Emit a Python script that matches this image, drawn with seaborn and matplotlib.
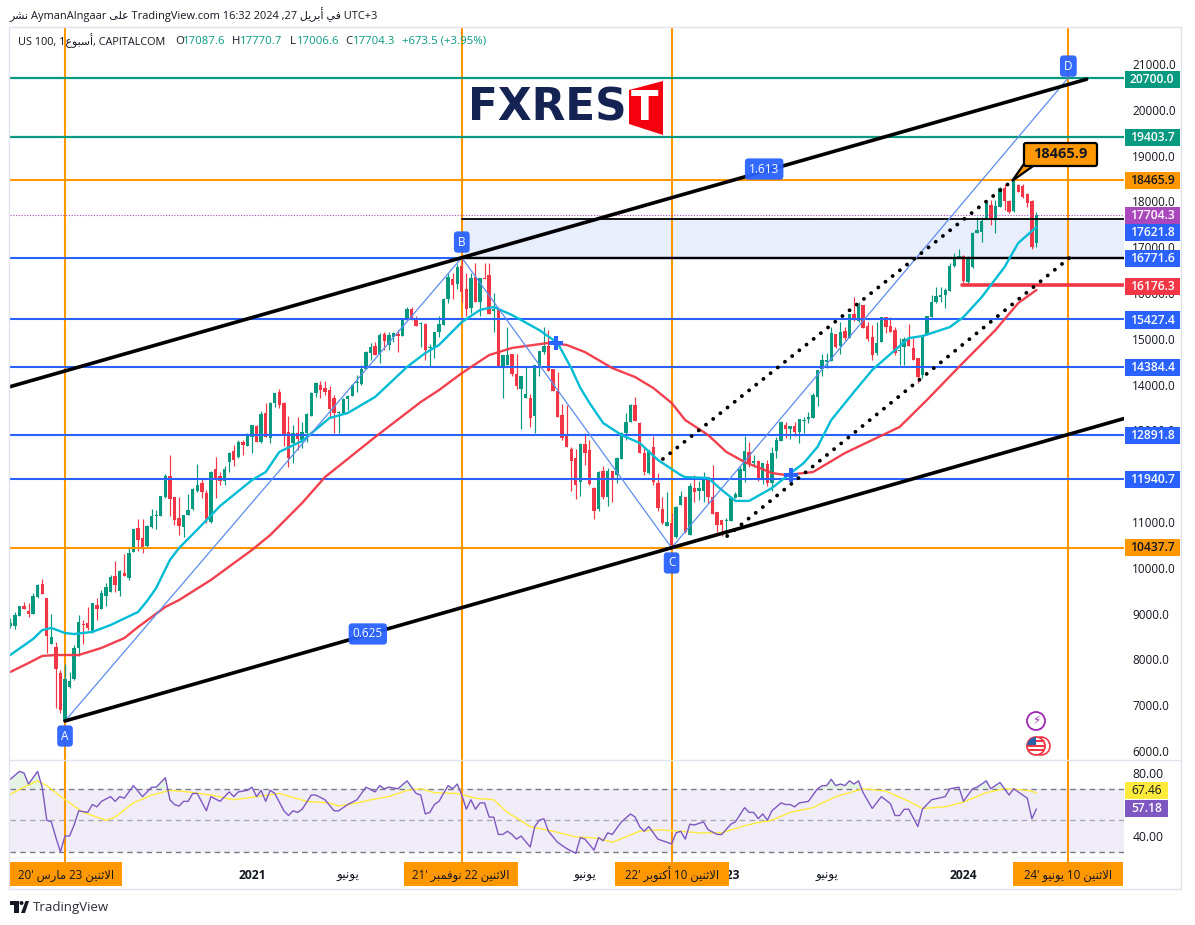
import numpy as np
import matplotlib
matplotlib.use('Agg')
import matplotlib.pyplot as plt
from matplotlib.patches import Rectangle, Polygon, Circle, FancyBboxPatch
import seaborn as sns

###############
##Weekly candles#
###############
opens = [8730,8730,8950,9165,9055,8990,9360,9645,9340,8340,
8270,7700,6655,7400,7570,8250,8770,8795,8600,9190,
9100,9385,9470,9820,9495,9885,9780,10345,10870,10650,
10475,10890,11130,11130,11545,12000,11545,11085,10890,11150,
11285,11675,11850,11630,11000,12155,12005,11895,12310,12550,
12420,12745,12660,12855,13095,12745,13380,12835,13600,13840,
13600,12965,12725,12945,12790,12945,13315,13815,14000,13925,
13880,13710,13380,13360,13690,13750,14035,14015,14340,14690,
14840,14670,15105,14865,15040,15105,15060,15410,15650,15455,
15320,15320,14800,14800,15150,15300,15870,16305,16195,16590,
16085,15670,16350,15805,16330,16390,15610,15630,14385,14430,
14670,14230,13905,13710,13710,13315,14385,14710,14840,14340,
13860,13340,12900,12595,12400,11875,12705,12570,11745,11285,
12115,11545,12115,12025,12375,12945,13185,13555,13160,12505,
12070,12640,11850,11285,10910,10980,10670,11370,11545,10715,
11745,11675,11675,11985,11545,11220,11045,11030,11020,11525,
11545,12115,12530,12290,12330,11940,12265,11850,12550,12770,
13120,13030,13095,12965,13205,13250,13270,13730,14340,14495,
14515,15105,14840,15170,15020,15540,15390,15735,15280,15040,
14690,14930,15475,15280,15190,14735,14820,14975,14800,14580,
14210,15085,15480,15805,15910,15955,16045,16590,16785,16810,
16240,16570,17310,17330,17615,17920,17615,17880,18290,18010,
17790,18360,18335,18160,18010,17087.6]

highs = [8900,9035,9165,9255,9230,9450,9645,9755,9340,8990,
8380,7770,7900,7725,8310,8970,8860,9145,9230,9340,
9515,9670,9840,10150,9950,10300,10430,10850,11065,11065,
10935,11285,11260,11570,12050,12460,11545,11545,11150,11610,
11745,12270,11960,11700,12115,12420,12090,12220,12530,12680,
12790,12790,12945,13120,13120,13425,13600,13620,13815,13905,
13620,13315,13120,13290,13185,13380,13840,14055,14080,14080,
13970,13775,13425,13710,13775,14015,14210,14430,14735,14910,
14930,15125,15150,15150,15150,15190,15430,15690,15690,15500,
15365,15345,14880,15150,15500,15890,16435,16435,16635,16785,
16435,16435,16655,16330,16655,16655,16000,15630,14645,15255,
14670,14670,14190,14385,13795,14430,14735,15255,15190,14340,
14275,13575,13555,12640,12595,12725,12945,12790,11765,12115,
12220,12180,12115,12420,12965,13380,13575,13730,13185,12615,
12570,12880,12070,11545,11655,11195,11350,11675,11545,11850,
12025,11895,12090,11985,12245,11220,11045,11085,11545,11655,
12220,12880,12745,12460,12355,12290,12355,12640,12855,13205,
13185,13095,13185,13250,13290,13400,13815,14320,14670,14690,
15255,15105,15365,15255,15540,15910,15805,15735,15365,15300,
15365,15475,15475,15475,15255,15020,15040,15320,15020,14580,
15085,15500,15955,16130,16130,16110,16655,16870,16960,16830,
16810,17330,17660,17660,17965,18030,18030,18315,18380,18030,
18465,18380,18380,18185,18030,17770.7]

lows = [8685,8665,8950,9100,8925,8990,9340,9430,8140,8340,
6940,6830,6655,7375,7550,8075,8340,8640,8575,8860,
9100,9165,9470,9470,9385,9820,9735,10345,10370,10325,
10455,10870,10845,11130,11520,11130,10935,10715,10670,11150,
11260,11655,11525,10980,10980,11525,11810,11810,12090,12220,
12400,12460,12660,12505,12745,12725,12855,12725,13510,13490,
12660,12200,12290,12570,12615,12745,13315,13730,13710,13775,
13290,12945,12945,13360,13445,13750,13840,14000,14340,14535,
14645,14470,14755,14755,14930,14710,15060,15410,15410,15280,
14820,14535,14385,14580,15040,15300,15780,15870,16085,15805,
15500,15565,15805,15500,16305,15540,15150,14385,13710,14430,
14190,13905,13030,13710,13075,12945,14190,14670,14295,13860,
13295,12790,12640,11675,11500,11570,12245,11810,11065,11240,
11500,11350,11435,11850,12375,12790,13185,13205,12505,12025,
12050,11810,11240,10955,10910,10430,10650,11370,10760,10715,
11435,11480,11435,11415,11175,10780,10695,10670,11020,11525,
11545,11875,12200,12200,11895,11830,11785,11675,12400,12770,
12835,12810,12880,12725,12945,13160,13270,13530,14190,14360,
14515,14800,14670,14975,15020,15390,15365,15235,14950,14535,
14645,14930,15125,15150,14645,14430,14430,14840,14535,14035,
14145,15085,15480,15785,15805,15670,16045,16570,16765,16220,
16175,16545,17310,17115,17615,17485,17310,17880,17810,17745,
17770,18205,18075,17875,16960,17006.6]

closes = [8795,8970,9165,9100,8990,9385,9625,9430,8510,8490,
7790,6895,7570,7530,8250,8820,8750,8685,9230,9100,
9450,9580,9800,9625,9930,9820,10325,10850,10610,10430,
10910,11130,11150,11570,12000,11500,11040,10910,11150,11260,
11720,11810,11655,11065,12090,11915,11895,12155,12505,12355,
12745,12680,12900,13120,12745,13360,12855,13600,13815,13555,
12875,12400,12945,12815,12965,13360,13815,14035,13880,13840,
13470,13380,13400,13690,13750,14000,14055,14340,14710,14820,
14645,15085,14950,15085,15125,15060,15410,15650,15430,15280,
15345,14755,14820,15150,15320,15870,16350,16175,16565,16020,
15650,16330,15805,16330,16305,15540,15650,14385,14645,14645,
14230,13970,14190,13795,13270,14430,14735,14840,14295,13860,
13295,12835,12640,12330,11810,12705,12505,11830,11240,12090,
11545,12115,11915,12400,12945,13185,13555,13205,12505,12090,
12570,11875,11305,10980,11000,10500,11325,11570,10780,11785,
11655,11745,11985,11545,11175,10935,10935,11045,11525,11610,
12155,12550,12290,12330,11940,12290,11850,12505,12790,13185,
13030,13095,12965,13250,13225,13290,13775,14320,14535,14535,
15125,14820,15150,15020,15540,15410,15715,15235,14995,14645,
14910,15475,15255,15150,14690,14755,14995,14840,14535,14165,
15085,15500,15805,15935,15955,16065,16590,16785,16810,16260,
16785,17310,17375,17570,17965,17615,17900,18290,18010,17770,
18445,18205,18095,17965,17005,17704.3]

###############
##Moving averages#
###############
ma_fast_weeks = [0,5,7,9,12,14,18,22,28,30,32,35,37,42,46,53,56,59,64,70,74,80,87,91,94,99,103,106,110,116,
120,123,125,127,130,134,138,142,147,148,153,156,159,162,167,170,174,177,180,185,189,194,197,200,206,209,213,218,221,225]
ma_fast = [8096,8445,8640,8686,8576,8554,8600,8750,9035,9275,9560,10170,10430,10935,11350,11915,12090,12530,12770,13270,
13380,13730,14385,14690,14865,15365,15630,15695,15520,15190,14910,14360,13925,13600,13160,12900,12725,12355,12025,11980,
11960,11700,11460,11460,11740,11980,12290,12640,13225,13840,14320,14755,15015,15060,15255,15475,15910,16565,17090,17440]

ma_slow_weeks = [0,4,7,10,15,20,25,28,34,37,44,53,57,64,69,80,90,94,99,105,110,118,122,126,132,137,141,145,148,153,
157,161,167,170,176,183,189,195,201,208,216,221,225]
ma_slow = [7725,7920,8075,8095,8095,8250,8465,8705,9145,9295,9735,10390,10715,11415,11980,12855,13620,13880,14250,14645,
14800,14910,14865,14710,14360,14165,13925,13600,13225,12900,12530,12310,12070,12025,12090,12505,12790,13075,13665,14385,
15190,15780,16065]

###############
##RSI#
###############
rsi_weeks = [0,2,3,4,6,7,8,9,10,11,12,13,14,15,17,18,19,20,22,23,24,25,27,29,31,32,34,35,36,37,
38,39,40,41,43,44,46,48,49,50,52,53,54,55,56,57,58,60,61,62,63,64,66,67,69,71,72,74,76,78,
80,81,82,83,85,87,89,90,91,92,93,94,96,97,98,99,100,101,102,103,104,105,106,107,108,109,110,111,112,114,
115,116,117,118,120,122,124,125,126,128,129,130,131,132,134,136,137,138,139,140,141,142,143,144,145,146,147,148,149,150,
152,153,155,156,158,159,161,162,163,164,165,166,167,169,170,171,172,173,175,177,178,179,180,181,182,183,184,185,186,187,
189,191,193,194,195,196,197,199,200,201,202,205,206,208,209,211,212,214,215,217,218,219,220,221,223,224,225]
rsi_values = [76,81,80,73,81,71,50,49,39,30,40,40,47,56,55,60,58.5,62,65,62,65,64,72,65,71,71,77,63,60,59,
62,62,67,67,56,65,62,68,65,68,69,71,65,69,62,69,67,56,53,56,55,57,66,66,63,56,56,60,63,71,
68,72,70,71,70,75,67,66,54,55,60,62,72,70,73,66,57,63,57,61,61,52,52,41,41,43,41,38,40,33,
46,50,51,43,36,32,29,39,38,31,39,37,42,41,49,54,52,46,43,46,42,38,37,36,35,42,43,38,47.5,47,
49,44,41,41,47.5,49,58,55,55,51,54,50,56,61,60,60,58.5,61,62,70,72,72,76,72,73,72,75,73,75,67.5,
57.5,65,60.5,53,53,57,57,46,57,60,63,65,70,71,62,70,71,75,70,74,70,66,70,68,64,51,57.18]

rsi_ma_weeks = [0,3,6,8,12,16,21,23,27,31,35,39,44,49,54,59,65,70,72,76,79,83,87,90,93,98,102,106,109,114,
119,124,129,132,135,138,142,147,151,156,161,164,167,171,176,181,187,192,197,200,205,209,214,218,223,225]
rsi_ma = [66.5,71,75,72,63,55,50,52,61,66,69,68,66,63,65,67,62,61,59,61,63,65,69,70,67.5,67,64,63,55,46,
43,39.5,38.5,36,39.5,43,44,43,42,42,46.5,48.5,50,55,58,65,70,68.5,62,57.5,58.5,61.5,67.5,70,69,67.46]

###############
##Levels and drawings#
###############
green_levels = [20700.0, 19403.7]
orange_levels = [18465.9, 10437.7]
blue_levels = [16771.6, 15427.4, 14384.4, 12891.8, 11940.7]
zone_top = 17621.8
zone_bottom = 16771.6
last_close = 17704.3
red_level = 16176.3

week_a, week_b, week_c, week_d = 12, 99, 145, 232
price_a, price_b, price_c, price_d = 6655, 16771.6, 10437.7, 20700
channel_low_weeks = [12, 244.7]
channel_low_prices = [6655, 13273]
channel_up_weeks = [0, 236]
channel_up_prices = [13956, 20668]
dotted_up_weeks = [143.1, 219.9]
dotted_up_prices = [12376, 18467]
dotted_low_weeks = [157.2, 232.2]
dotted_low_prices = [10694, 16764]
plus_weeks = [119.7, 171.2]
plus_prices = [14908, 12026]

# 12000 sits fully under the 11940.7 tag in the reference
price_ticks = [6000,7000,8000,9000,10000,11000,13000,14000,15000,16000,17000,18000,19000,20000,21000]
rsi_ticks = [40, 80]
time_tick_weeks = [53, 74, 126, 157, 179, 209]

tag_prices = [20700.0, 19403.7, 18465.9, 17704.3, 17621.8, 16771.6, 16176.3, 15427.4, 14384.4, 12891.8, 11940.7, 10437.7]
tag_heights = [20660, 19390, 18450, 17700, 17320, 16750, 16150, 15410, 14375, 12880, 11925, 10435]
tag_colors = ['#089981','#089981','#FF9800','#AB47BC','#2962FF','#2962FF','#F23645','#2962FF','#2962FF','#2962FF','#2962FF','#FF9800']
tag_text_colors = ['white','white','#131722','white','white','white','white','white','white','white','white','#131722']

GREEN = '#089981'
RED = '#F23645'
BLUE = '#2962FF'
ORANGE = '#FF9800'
CYAN = '#00BCD4'
TEXT = '#131722'


#######################
#Arabic shaping########
#######################

# matplotlib does not join or reorder arabic, so the words go through presentation forms
FORMS = {'ا': (0xFE8D, 0xFE8E), 'أ': (0xFE83, 0xFE84), 'ر': (0xFEAD, 0xFEAE), 'و': (0xFEED, 0xFEEE), 'ى': (0xFEEF, 0xFEF0),
         'ب': (0xFE8F, 0xFE90, 0xFE91, 0xFE92), 'ت': (0xFE95, 0xFE96, 0xFE97, 0xFE98), 'ث': (0xFE99, 0xFE9A, 0xFE9B, 0xFE9C),
         'س': (0xFEB1, 0xFEB2, 0xFEB3, 0xFEB4), 'ش': (0xFEB5, 0xFEB6, 0xFEB7, 0xFEB8), 'ع': (0xFEC9, 0xFECA, 0xFECB, 0xFECC),
         'ف': (0xFED1, 0xFED2, 0xFED3, 0xFED4), 'ك': (0xFED9, 0xFEDA, 0xFEDB, 0xFEDC), 'ل': (0xFEDD, 0xFEDE, 0xFEDF, 0xFEE0),
         'م': (0xFEE1, 0xFEE2, 0xFEE3, 0xFEE4), 'ن': (0xFEE5, 0xFEE6, 0xFEE7, 0xFEE8), 'ي': (0xFEF1, 0xFEF2, 0xFEF3, 0xFEF4)}
LAM_ALEF = {'ا': (0xFEFB, 0xFEFC), 'أ': (0xFEF7, 0xFEF8)}


def ar(word):
    out = []
    i = 0
    joined = False
    while i < len(word):
        ch = word[i]
        nxt = word[i + 1] if i + 1 < len(word) else None
        if ch == 'ل' and nxt in LAM_ALEF:
            out.append(chr(LAM_ALEF[nxt][1 if joined else 0]))
            joined = False
            i += 2
            continue
        forms = FORMS[ch]
        if len(forms) == 4 and nxt is not None:
            out.append(chr(forms[3] if joined else forms[2]))
            joined = True
        else:
            out.append(chr(forms[1] if joined else forms[0]))
            joined = False
        i += 1
    return ''.join(reversed(out))


def date_label(year, month, day):
    return year + "' " + ar(month) + ' ' + day + ' ' + ar('الاثنين')


#######################
#main##################
#######################

sns.set_theme(style='white')
plt.rcParams['font.family'] = ['Open Sans', 'DejaVu Sans']

W, H = 1195, 925
fig = plt.figure(figsize=(W / 100, H / 100), dpi=100, facecolor='white')
ax = fig.add_axes([10 / W, 1 - 760 / H, 1114 / W, 733 / H])
ax_rsi = fig.add_axes([10 / W, 1 - 862 / H, 1114 / W, 102 / H])

x_min, x_max = -0.06, 244.2
for a in (ax, ax_rsi):
    a.set_xlim(x_min, x_max)
    a.set_facecolor('none')
    for s in a.spines.values():
        s.set_visible(False)
ax.set_ylim(5803, 21808)
ax_rsi.set_ylim(23.5, 88.25)

weeks = np.arange(len(closes))
o, h, l, c = map(np.array, (opens, highs, lows, closes))
candle_colors = [GREEN if c[i] >= o[i] else RED for i in weeks]

# order of drawing: zone, vertical lines, candles, levels, averages, drawings
ax.fill_between([week_b, x_max], zone_bottom, zone_top, color='#E9EEFD', lw=0, zorder=0.5)
for wk in (week_a, week_b, week_c, week_d):
    ax.axvline(wk, color=ORANGE, lw=1.5, zorder=1)
    ax_rsi.axvline(wk, color=ORANGE, lw=1.5, zorder=3)

ax.vlines(weeks, l, h, colors=candle_colors, lw=0.85, zorder=2)
ax.bar(weeks, c - o, bottom=o, width=0.74, color=candle_colors, lw=0, zorder=2.1)

for lev in green_levels:
    ax.axhline(lev, color=GREEN, lw=1.6, zorder=3)
for lev in orange_levels:
    ax.axhline(lev, color=ORANGE, lw=1.5, zorder=3)
for lev in blue_levels:
    ax.axhline(lev, color=BLUE, lw=1.5, zorder=3)
ax.axhline(last_close, color='#AB47BC', lw=0.8, ls=(0, (1, 1.5)), zorder=3)
ax.plot([week_b, x_max], [zone_top, zone_top], color='black', lw=1.3, zorder=3.2)
ax.plot([week_b, x_max], [zone_bottom, zone_bottom], color='black', lw=1.7, zorder=3.2)
ax.plot([208.7, x_max], [red_level, red_level], color=RED, lw=2.6, solid_capstyle='round', zorder=3.2)

sns.lineplot(x=ma_fast_weeks, y=ma_fast, ax=ax, color=CYAN, lw=1.7, estimator=None, errorbar=None, zorder=4)
sns.lineplot(x=ma_slow_weeks, y=ma_slow, ax=ax, color=RED, lw=1.7, estimator=None, errorbar=None, alpha=0.95, zorder=4)

ax.plot([week_a, week_b, week_c, week_d], [price_a, price_b, price_c, price_d], color='#5B8DEF', lw=0.9, zorder=4.5)
ax.plot(channel_low_weeks, channel_low_prices, color='black', lw=2.6, solid_capstyle='round', zorder=5)
ax.plot(channel_up_weeks, channel_up_prices, color='black', lw=2.6, solid_capstyle='round', zorder=5)
for xs, ys in ((dotted_up_weeks, dotted_up_prices), (dotted_low_weeks, dotted_low_prices)):
    ax.plot(xs, ys, color='black', lw=2.8, ls=(0, (0.01, 2.35)), dash_capstyle='round', zorder=5)
ax.scatter(plus_weeks, plus_prices, marker='P', s=95, color=BLUE, lw=0, zorder=5.5)

# point badges
for name, wk, pr in (('A', week_a, 6327), ('B', week_b, 17113), ('C', week_c, 10105), ('D', week_d, 20955),
                     ('0.625', 78.4, 8555), ('1.613', 165.3, 18707)):
    ax.text(wk, pr, name, color='white', fontsize=8.5, ha='center', va='center', zorder=6,
            bbox=dict(boxstyle='round,pad=0.35,rounding_size=0.3', fc=BLUE, ec='none', alpha=0.95))

# right scale
ax.yaxis.tick_right()
ax.set_yticks(price_ticks)
ax.set_yticklabels([f'{t:.1f}' for t in price_ticks], fontsize=8.5, color=TEXT)
ax.tick_params(axis='y', length=0, pad=6)
ax.set_xticks([])

trans = ax.get_yaxis_transform()
for lev, pos, col, tcol in zip(tag_prices, tag_heights, tag_colors, tag_text_colors):
    ax.add_patch(Rectangle((1.0005, pos - 186), 0.0494, 372, transform=trans, fc=col, lw=0, clip_on=False, zorder=10))
    ax.text(1.0252, pos, f'{lev:.1f}', transform=trans, color=tcol, fontsize=8.7, fontweight='semibold',
            ha='center', va='center', clip_on=False, zorder=11)

# RSI pane
ax_rsi.axhspan(30, 70, color='#7E57C2', alpha=0.1, lw=0)
ax_rsi.axhline(70, color='#787B86', lw=1, ls=(0, (4, 3)))
ax_rsi.axhline(50, color='#787B86', lw=1, ls=(0, (4, 3)), alpha=0.6)
ax_rsi.axhline(30, color='#787B86', lw=1, ls=(0, (4, 3)))
rsi_arr = np.array(rsi_values)
ax_rsi.fill_between(rsi_weeks, 70, rsi_arr, where=rsi_arr > 70, interpolate=True, color='#4CAF50', alpha=0.15, lw=0)
sns.lineplot(x=rsi_ma_weeks, y=rsi_ma, ax=ax_rsi, color='#FFEB3B', lw=1, estimator=None, errorbar=None, zorder=4)
sns.lineplot(x=rsi_weeks, y=rsi_values, ax=ax_rsi, color='#7E57C2', lw=1, estimator=None, errorbar=None, zorder=5)
ax_rsi.yaxis.tick_right()
ax_rsi.set_yticks(rsi_ticks)
ax_rsi.set_yticklabels(['40.00', '80.00'], fontsize=8.7, color=TEXT)
ax_rsi.tick_params(axis='y', length=0, pad=6)
ax_rsi.set_ylabel('')
ax.set_ylabel('')

ax_rsi.set_xticks(time_tick_weeks)
ax_rsi.set_xticklabels(['2021', ar('يونيو'), ar('يونيو'), '2023', ar('يونيو'), '2024'], fontsize=8.7, color=TEXT)
ax_rsi.tick_params(axis='x', length=0, pad=5)
for lab in ax_rsi.get_xticklabels():
    if lab.get_text().isdigit():
        lab.set_fontweight('bold')

# everything placed by pixel goes on a transparent layer over the chart
over = fig.add_axes([0, 0, 1, 1], zorder=5)
over.set_xlim(0, W)
over.set_ylim(H, 0)
over.axis('off')
over.patch.set_alpha(0)

over.add_patch(Rectangle((9, 27), 1172, 862, fc='none', ec='#E0E3EB', lw=1))
over.plot([9, 1181], [760, 760], color='#E0E3EB', lw=1)

for (x0, x1), lab in (((10, 122), date_label('20', 'مارس', '23')), ((404, 518), date_label('21', 'نوفمبر', '22')),
                      ((615, 729), date_label('22', 'أكتوبر', '10')), ((1013, 1123), date_label('24', 'يونيو', '10'))):
    over.add_patch(Rectangle((x0, 862), x1 - x0, 24, fc=ORANGE, lw=0))
    over.text((x0 + x1) / 2, 875, lab, fontsize=8.3, color=TEXT, ha='center', va='center')

# RSI value tags
over.add_patch(Rectangle((1125, 782), 43, 17, fc='#FFEB3B', lw=0))
over.text(1146.5, 790.5, '67.46', fontsize=8.7, color=TEXT, ha='center', va='center')
over.add_patch(Rectangle((1125, 800), 43, 17, fc='#7E57C2', lw=0))
over.text(1146.5, 808.5, '57.18', fontsize=8.7, color='white', fontweight='semibold', ha='center', va='center')

# header
over.text(10, 15, ar('نشر') + ' AymanAlngaar ' + ar('على') + ' TradingView.com 16:32 2024 ,27 ' + ar('أبريل') + ' ' + ar('في') + ' UTC+3',
          fontsize=7.9, color=TEXT, va='center')
over.text(18, 41, 'US 100, 1' + ar('أسبوع') + ', CAPITALCOM', fontsize=7.8, color=TEXT, va='center')
for x_lab, lab, x_val, val in ((175, 'O', 183, '17087.6'), (232, 'H', 240, '17770.7'), (290, 'L', 297, '17006.6'), (345, 'C', 353, '17704.3')):
    over.text(x_lab, 41, lab, fontsize=8.2, color=TEXT, va='center')
    over.text(x_val, 41, val, fontsize=8.2, color=GREEN, va='center')
over.text(402, 41, '+673.5 (+3.95%)', fontsize=8.2, color=GREEN, va='center')

# FXREST logo
over.text(468, 108, 'FXRES', fontsize=31.5, fontweight='bold', family='DejaVu Sans', color='#142352', va='center', ha='left')
over.add_patch(Polygon([(629, 90), (663, 81), (663, 135), (629, 124)], fc='#F5000F', lw=0))
over.text(645, 109, 'T', fontsize=29, fontweight='bold', family='DejaVu Sans', color='white', va='center', ha='center')

# callout on the high
over.add_patch(Polygon([(1012, 181), (1024, 164), (1036, 164)], fc=ORANGE, ec='black', lw=1.6))
over.add_patch(FancyBboxPatch((1024, 143), 73, 23, boxstyle='round,pad=0,rounding_size=2', fc=ORANGE, ec='black', lw=1.6))
over.text(1060, 154.5, '18465.9', fontsize=10.5, fontweight='bold', color=TEXT, ha='center', va='center')

# event icons
over.add_patch(Circle((1036, 721), 9, fc='white', ec='#9C27B0', lw=1.3))
over.text(1036, 721, '⚡', fontsize=8.5, family='DejaVu Sans', color='#9C27B0', ha='center', va='center')
over.add_patch(Circle((1041, 746), 9, fc='white', ec='#F23645', lw=1.2))
flag = Circle((1036, 746), 9, fc='white', ec='#F23645', lw=1.3)
over.add_patch(flag)
for y_s in (740, 744.5, 749):
    r = Rectangle((1027, y_s), 18, 2.2, fc='#F23645', lw=0)
    over.add_patch(r)
    r.set_clip_path(flag)
canton = Rectangle((1027, 737), 9, 8, fc='#2962A8', lw=0)
over.add_patch(canton)
canton.set_clip_path(flag)

# TradingView mark at the bottom
over.add_patch(Polygon([(10, 901), (19, 901), (19, 913), (14, 913), (14, 905), (10, 905)], fc=TEXT, lw=0))
over.add_patch(Circle((21.5, 903), 2, fc=TEXT, lw=0))
over.add_patch(Polygon([(21, 913), (25.5, 901), (29, 901), (25, 913)], fc=TEXT, lw=0))
over.text(33, 907.5, 'TradingView', fontsize=9.5, color='#2A2E39', va='center')

fig.savefig('out.png', dpi=100, facecolor='white')
